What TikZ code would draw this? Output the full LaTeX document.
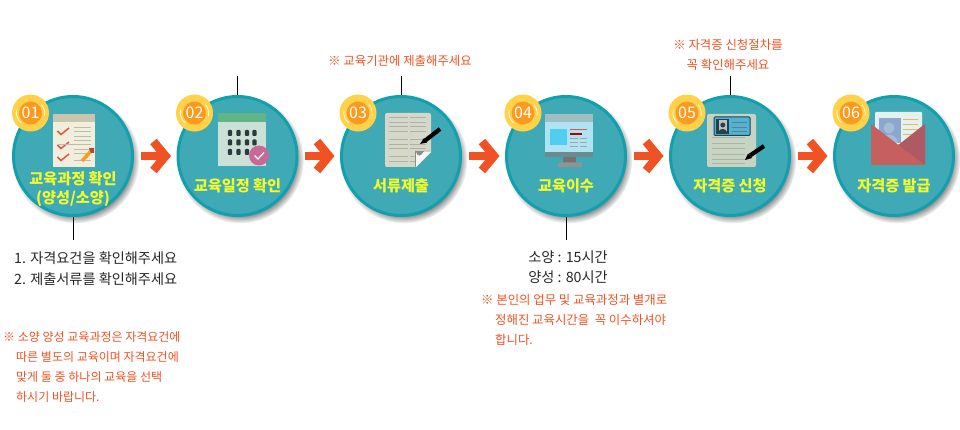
\documentclass[tikz,border=0pt]{standalone}
\usepackage{fontspec}
\setmainfont{Noto Sans CJK KR}
\usetikzlibrary{arrows.meta,shadows,positioning,calc}
\definecolor{stepfill}{HTML}{3FA9B5}
\definecolor{stepring}{HTML}{12A0AE}
\definecolor{noteorange}{HTML}{F05223}
\definecolor{labelyellow}{HTML}{F2FB2C}
\definecolor{badgering}{HTML}{FFD24A}
\definecolor{badgecore}{HTML}{FB9A1E}
\definecolor{papercream}{HTML}{F1EEDD}
\definecolor{papertop}{HTML}{C8C4AE}
\definecolor{checkred}{HTML}{D65A45}
\definecolor{paperline}{HTML}{BDBBAA}
\definecolor{calhead}{HTML}{5FB585}
\definecolor{calbody}{HTML}{CCE0D8}
\definecolor{caldot}{HTML}{2A3B3B}
\definecolor{calpink}{HTML}{C96A96}
\definecolor{docbody}{HTML}{D5D8C8}
\definecolor{docline}{HTML}{AEB2A0}
\definecolor{scrblue}{HTML}{AFE2F2}
\definecolor{scrsquare}{HTML}{4FCEF0}
\definecolor{formbody}{HTML}{C7D3C3}
\definecolor{cardblue}{HTML}{4FB3D6}
\definecolor{carddark}{HTML}{24424E}
\definecolor{envred}{HTML}{C5605F}
\definecolor{envdark}{HTML}{AF5A62}
\definecolor{envletter}{HTML}{E4F1EE}
\definecolor{envphoto}{HTML}{8CA7CE}
\definecolor{envperson}{HTML}{A5BCD9}
\definecolor{envline}{HTML}{DDBE5C}
\tikzstyle{stepnode}=[circle,fill=stepfill,draw=stepring,line width=3pt,minimum size=119pt,inner sep=0pt,
  circular drop shadow={shadow xshift=2.5pt,shadow yshift=-3.5pt,shadow scale=1.07,opacity=0.75,fill=black!70}]
\tikzstyle{badge}=[circle,fill=badgecore,draw=badgering,line width=7pt,minimum size=30pt,inner sep=0pt,
  text=white,font=\fontsize{16}{16}\selectfont]
\tikzstyle{steplabel}=[text=labelyellow,font=\fontsize{15.2}{19}\bfseries\selectfont,align=center]
\tikzstyle{note}=[text=black!85,font=\fontsize{14.2}{20.5}\selectfont,align=left]
\tikzstyle{rednote}=[text=noteorange,font=\fontsize{12.4}{20}\selectfont,align=left]
\tikzstyle{leader}=[draw,line width=1pt]
\tikzstyle{nextarrow}=[draw=noteorange,line width=8.5pt,shorten <=6.5pt,shorten >=5.5pt,
  -{Straight Barb[length=12pt,width=29pt,line width=8.5pt]}]
\tikzstyle{thinline}=[line width=1pt]

\begin{document}
\begin{tikzpicture}[x=1pt,y=-1pt]
  \useasboundingbox (0,0) rectangle (960,430);

  \foreach \pos/\name in {{(73,156)/c1},{(237.5,156)/c2},{(401,156)/c3},{(566,156)/c4},{(730,156)/c5},{(894,156)/c6}}
    \node[stepnode] (\name) at \pos {};

  \foreach \pos/\name/\num in {{(30.5,113)/b1/01},{(194.5,113)/b2/02},{(358,113)/b3/03},{(523,113)/b4/04},{(687,113)/b5/05},{(851,113)/b6/06}} {
    \node[badge] (\name) at \pos {\num};
    \draw[white,line width=0.8pt,opacity=.8] ($(\name)+(-14,-3)$) arc[start angle=190,end angle=130,radius=14];
    \draw[white,line width=0.8pt,opacity=.8] ($(\name)+(14,3)$) arc[start angle=10,end angle=-40,radius=14];
  }

  \foreach \source/\dest in {c1/c2,c2/c3,c3/c4,c4/c5,c5/c6}
    \path[nextarrow] (\source) -- (\dest);

  % leader lines
  \coordinate (l1) at (73,240);
  \coordinate (l2) at (237.5,76);
  \coordinate (l3) at (401,76);
  \coordinate (l4) at (566,240);
  \coordinate (l5) at (730,76);
  \path[leader] (c1.south) -- (l1);
  \path[leader] (c2.north) -- (l2);
  \path[leader] (c3.north) -- (l3);
  \path[leader] (c4.south) -- (l4);
  \path[leader] (c5.north) -- (l5);

  % checklist
  \fill[papercream] (53,114) rectangle (95,167);
  \fill[papertop] (53,114) rectangle (95,122.5);
  \foreach \y in {131,145,157}
    \draw[checkred,line width=1.5pt] (57.5,\y) -- (61,\y+3.5) -- (69,\y-3);
  \foreach \y in {128,132,137,141,150,154,161}
    \draw[thinline,paperline] (74,\y) -- (91,\y);
  \draw[thinline,paperline] (58,144.5) -- (91,144.5);
  \draw[badgecore,line width=3.5pt] (82,161) -- (91,151);
  \fill[checkred!80!black] (89,148) -- (94,148) -- (94,153) -- (91,153) -- cycle;

  % calendar
  \fill[calbody] (218,122) rectangle (266,166);
  \fill[calhead] (218,113) rectangle (266,122.5);
  \foreach \x in {230,238.5,247,254.5}
    \foreach \y in {133,142.5,152}
      \fill[caldot,rounded corners=1pt] (\x-2.2,\y-3) rectangle (\x+2.2,\y+3);
  \fill[calpink] (259,155.5) circle[radius=10];
  \draw[white,line width=1.2pt] (254.5,155.5) -- (258,159) -- (264,152.5);

  % document
  \fill[docbody,rounded corners=2pt] (385,113) rectangle (431,167);
  \foreach \y in {118,122.5,127,131.5,140,144.5,149,157,162}
    \draw[thinline,docline,dash pattern=on 19pt off 2pt on 16pt off 1pt] (389,\y) -- (427,\y);
  \fill[stepfill] (416,167.5) -- (431.5,152) -- (431.5,167.5) -- cycle;
  \fill[black!45] (415,167) -- (431,151) -- (415,151) -- cycle;
  \fill[black!4!white] (416,167) -- (431,151.5) -- (424,151.5) .. controls (421,157) and (417,157) .. (416,152) -- cycle;
  \draw[black,line width=4.2pt] (424,141.5) -- (440,129);
  \fill[black] (420,144) -- (424,138) -- (427,142.5) -- cycle;

  % monitor
  \fill[scrblue] (545,122) rectangle (593,152);
  \fill[black!35!stepfill!45!white] (545,114) rectangle (593,122.5);
  \fill[black!55!stepfill!65!white] (545,152) rectangle (593,157.5);
  \fill[scrsquare] (550,129) rectangle (566.5,145.5);
  \draw[checkred,line width=1.3pt] (570,129.5) -- (587,129.5);
  \draw[red!70!black,line width=1.3pt] (570,134) -- (582,134);
  \foreach \y in {138.5,143,147}{
    \draw[thinline,gray!70] (570,\y) -- (578,\y);
    \draw[thinline,gray!70] (580,\y) -- (587,\y);
  }
  \fill[gray!90!black] (563,157) rectangle (576,163);
  \fill[gray!85!white,rounded corners=1pt] (558,162.5) rectangle (582,167);

  % application form
  \fill[formbody,rounded corners=2pt] (707,114) rectangle (756,167);
  \fill[cardblue,draw=carddark,line width=1pt,rounded corners=1pt] (714,117) rectangle (750,135.5);
  \fill[carddark] (716,119) rectangle (729,134);
  \fill[black!25!white] (719,120.5) rectangle (726.5,132);
  \fill[carddark] (722.8,125) circle[radius=2.5];
  \fill[carddark] (718.5,132) .. controls (719,128) and (726,128) .. (727,132) -- cycle;
  \foreach \y in {123,127.5,131.5}
    \draw[thinline,carddark!70] (732,\y) -- (747,\y);
  \foreach \y in {138,144,149,155,160,164}
    \draw[thinline,docline] (712,\y) -- (745,\y);
  \draw[black,line width=4.2pt] (750,155.5) -- (764,146);
  \fill[black] (745,160) -- (748,153.5) -- (752,158) -- cycle;

  % envelope
  \fill[envletter,rounded corners=1pt] (875,112) rectangle (922,146);
  \fill[envphoto] (879,118) rectangle (901,143);
  \fill[envperson] (889,128) circle[radius=5.5];
  \fill[envperson] (881,143) .. controls (881,132) and (897,132) .. (898,143) -- cycle;
  \foreach \y in {120,125,130,135}
    \draw[thinline,envline] (902.5,\y) -- (917.5,\y);
  \fill[envred,rounded corners=1pt] (871,124) -- (898.5,145) -- (925,124) -- (925,165) -- (871,165) -- cycle;
  \fill[envdark,rounded corners=1pt] (925,124) -- (898.5,145) -- (925,165) -- cycle;

  % labels
  \node[steplabel] (t1) at (73,189.5) {교육과정 확인\\(양성/소양)};
  \node[steplabel] (t2) at (237.5,186) {교육일정 확인};
  \node[steplabel] (t3) at (401,186) {서류제출};
  \node[steplabel] (t4) at (566,186) {교육이수};
  \node[steplabel] (t5) at (730,186) {자격증 신청};
  \node[steplabel] (t6) at (894,186) {자격증 발급};

  \node[note,anchor=west,inner sep=0pt] (n1) at (14,268.5) {1. 자격요건을 확인해주세요\\2. 제출서류를 확인해주세요};
  \node[note,align=center,inner sep=0pt] (n4) at (568,267) {소양 : 15시간\\양성 : 80시간};

  \node[rednote,font=\fontsize{12}{20}\selectfont,anchor=west,inner sep=0pt] (r1) at (3,367) {※ 소양 양성 교육과정은 자격요건에\\\hspace*{13pt}따른 별도의 교육이며 자격요건에\\\hspace*{13pt}맞게 둘 중 하나의 교육을 선택\\\hspace*{13pt}하시기 바랍니다.};
  \node[rednote,inner sep=0pt] (r3) at (400,61) {※ 교육기관에 제출해주세요};
  \node[rednote,anchor=west,inner sep=0pt] (r4) at (481,320) {※ 본인의 업무 및 교육과정과 별개로\\\hspace*{14pt}정해진 교육시간을 \ 꼭 이수하셔야\\\hspace*{14pt}합니다.};
  \node[rednote,align=center,inner sep=0pt] (r5) at (728,54.5) {※ 자격증 신청절차를\\꼭 확인해주세요};
\end{tikzpicture}
\end{document}
